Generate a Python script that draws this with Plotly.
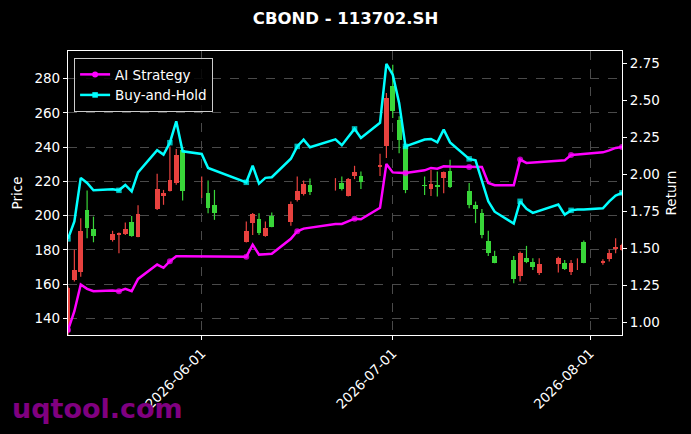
import plotly.graph_objects as go
import pandas as pd

dates = [
    "2026-05-11", "2026-05-12", "2026-05-13", "2026-05-14", "2026-05-15",
    "2026-05-18", "2026-05-19", "2026-05-20", "2026-05-21", "2026-05-22",
    "2026-05-25", "2026-05-26", "2026-05-27", "2026-05-28", "2026-05-29",
    "2026-06-01", "2026-06-02", "2026-06-03", "2026-06-08", "2026-06-09",
    "2026-06-10", "2026-06-11", "2026-06-12", "2026-06-15", "2026-06-16",
    "2026-06-17", "2026-06-18", "2026-06-22", "2026-06-23", "2026-06-24",
    "2026-06-25", "2026-06-26", "2026-06-29", "2026-06-30", "2026-07-01",
    "2026-07-02", "2026-07-03", "2026-07-06", "2026-07-07", "2026-07-08",
    "2026-07-09", "2026-07-10", "2026-07-13", "2026-07-14", "2026-07-15",
    "2026-07-16", "2026-07-17", "2026-07-20", "2026-07-21", "2026-07-22",
    "2026-07-23", "2026-07-24", "2026-07-27", "2026-07-28", "2026-07-29",
    "2026-07-30", "2026-07-31", "2026-08-03", "2026-08-04", "2026-08-05",
    "2026-08-06",
]

open_ = [
    132.0, 162.4, 167.2, 203.3, 192.2, 185.8, 188.7, 189.3, 196.3, 187.7,
    203.8, 211.5, 214.6, 219.0, 238.5, 216.0, 213.1, 206.3, 184.8, 195.9,
    197.9, 188.3, 199.8, 196.5, 209.2, 212.7, 218.0, 218.0, 219.0, 211.5,
    223.2, 223.2, 228.7, 240.4, 275.5, 255.6, 240.4, 217.8, 215.5, 217.5,
    221.9, 225.8, 214.1, 206.3, 201.8, 185.2, 176.4, 174.1, 164.7, 175.0,
    172.7, 166.7, 171.7, 172.2, 167.3, 171.5, 184.8, 172.2, 174.5, 180.4,
    180.0,
]
high = [
    158.5, 180.0, 198.5, 214.6, 199.4, 191.1, 190.1, 195.9, 199.8, 206.1,
    224.4, 215.0, 240.4, 238.9, 240.0, 222.8, 220.5, 215.0, 196.5, 201.5,
    201.4, 196.5, 201.8, 208.2, 222.8, 220.5, 221.7, 221.9, 222.8, 221.9,
    229.1, 225.8, 236.1, 271.6, 288.2, 258.0, 241.0, 222.8, 226.8, 225.8,
    225.8, 232.6, 219.0, 208.2, 203.8, 191.1, 179.5, 176.4, 179.0, 182.3,
    175.0, 175.0, 176.0, 174.1, 174.1, 175.0, 185.4, 174.5, 180.0, 186.8,
    183.5,
]
low = [
    129.0, 161.4, 164.3, 186.8, 184.4, 184.8, 178.0, 188.7, 187.7, 187.3,
    203.3, 206.3, 214.1, 218.0, 208.8, 210.3, 201.4, 197.5, 184.2, 188.7,
    188.7, 187.7, 193.2, 194.0, 208.2, 211.7, 212.1, 214.6, 214.6, 211.1,
    221.3, 215.5, 223.2, 233.6, 257.0, 236.5, 213.1, 212.1, 211.5, 211.1,
    213.1, 216.1, 204.3, 195.6, 186.8, 176.4, 172.2, 160.5, 161.4, 172.2,
    168.2, 165.3, 166.7, 168.2, 165.3, 168.2, 172.2, 171.2, 173.1, 178.0,
    179.5,
]
close = [
    157.5, 168.2, 190.7, 192.6, 188.3, 189.3, 189.7, 192.2, 188.3, 201.0,
    215.5, 213.1, 220.9, 235.5, 214.6, 216.0, 204.3, 201.8, 191.1, 201.0,
    189.7, 192.6, 193.6, 206.9, 214.1, 218.6, 213.5, 218.0, 215.5, 221.3,
    225.2, 219.9, 229.7, 268.7, 260.9, 244.3, 215.0, 217.3, 218.6, 217.0,
    225.2, 217.0, 206.3, 203.9, 188.7, 178.4, 172.5, 162.8, 178.0, 172.7,
    169.8, 171.7, 175.0, 168.8, 172.2, 171.5, 172.5, 173.7, 178.4, 181.9,
    182.9,
]

ai_strategy = [
    0.95, 1.077, 1.257, 1.228, 1.212, 1.217, 1.212, 1.228, 1.212, 1.295,
    1.392, 1.370, 1.414, 1.448, 1.448, 1.448, 1.448, 1.448, 1.444, 1.526,
    1.459, 1.462, 1.464, 1.565, 1.616, 1.634, 1.641, 1.665, 1.665, 1.683,
    1.701, 1.697, 1.774, 2.070, 2.013, 2.011, 2.009, 2.027, 2.043, 2.038,
    2.054, 2.052, 2.050, 2.050, 2.050, 1.942, 1.926, 1.926, 2.099, 2.077,
    2.081, 2.085, 2.092, 2.094, 2.130, 2.134, 2.137, 2.148, 2.161, 2.178,
    2.184,
]
buy_hold = [
    1.565, 1.683, 1.976, 1.942, 1.892, 1.899, 1.892, 1.928, 1.885, 2.013,
    2.163, 2.133, 2.213, 2.357, 2.155, 2.137, 2.043, 2.027, 1.946, 2.058,
    1.937, 1.976, 1.980, 2.105, 2.188, 2.234, 2.182, 2.236, 2.196, 2.252,
    2.306, 2.245, 2.347, 2.745, 2.671, 2.481, 2.188, 2.234, 2.238, 2.215,
    2.301, 2.215, 2.104, 2.094, 1.964, 1.818, 1.748, 1.668, 1.818, 1.767,
    1.740, 1.755, 1.796, 1.728, 1.757, 1.762, 1.762, 1.771, 1.818, 1.856,
    1.875,
]

price_ticks = [140, 160, 180, 200, 220, 240, 260, 280]
return_ticks = [1.00, 1.25, 1.50, 1.75, 2.00, 2.25, 2.50, 2.75]
month_ticks = ["2026-06-01", "2026-07-01", "2026-08-01"]

RED = "#e8423f"
GREEN = "#39d639"
MAGENTA = "#ff00ff"
CYAN = "#00ffff"
DAY_MS = 86400000

x = pd.to_datetime(dates)
up = [c >= o for o, c in zip(open_, close)]
colors = [RED if u else GREEN for u in up]

fig = go.Figure()

# wicks
for flag, col in ((True, RED), (False, GREEN)):
    wx, wy = [], []
    for d, h, l, u in zip(x, high, low, up):
        if u == flag:
            wx += [d, d, None]
            wy += [l, h, None]
    fig.add_trace(go.Scatter(x=wx, y=wy, mode="lines",
                             line=dict(color=col, width=1.2),
                             showlegend=False, hoverinfo="skip"))

# bodies
fig.add_trace(go.Bar(
    x=x,
    y=[abs(c - o) for o, c in zip(open_, close)],
    base=[min(o, c) for o, c in zip(open_, close)],
    width=0.75 * DAY_MS,
    marker=dict(color=colors, line=dict(width=0)),
    showlegend=False,
))

msize = [6 if i % 6 == 0 else 0 for i in range(len(dates))]
series = [("AI Strategy", ai_strategy, MAGENTA, "circle", 6),
          ("Buy-and-Hold", buy_hold, CYAN, "square", 5.5)]
for name, vals, col, sym, sz in series:
    fig.add_trace(go.Scatter(
        x=x, y=vals, mode="lines+markers", name=name, showlegend=False,
        line=dict(color=col, width=2.5),
        marker=dict(symbol=sym, size=[sz if s else 0 for s in msize], color=col,
                    line=dict(width=0)),
        yaxis="y2",
    ))
for name, vals, col, sym, sz in series:
    # legend entry
    fig.add_trace(go.Scatter(
        x=[None], y=[None], mode="lines+markers", name=name,
        line=dict(color=col, width=2.5),
        marker=dict(symbol=sym, size=sz, color=col, line=dict(width=0)),
        yaxis="y2",
    ))

font = dict(family="DejaVu Sans", size=13.5, color="white")
grid = dict(gridcolor="#4a4a4a", griddash="dash", gridwidth=0.8)

fig.update_layout(
    width=691, height=434,
    paper_bgcolor="black", plot_bgcolor="black",
    margin=dict(l=68, r=69, t=51, b=99),
    font=font,
    bargap=0,
    title=dict(text="CBOND - 113702.SH", x=0.5, xanchor="center",
               y=1 - 18 / 434, yref="container", yanchor="middle",
               font=dict(family="DejaVu Sans", size=16.5, color="white", weight="bold")),
    xaxis=dict(type="date", range=["2026-05-11", "2026-08-06"],
               tickvals=month_ticks, ticktext=month_ticks, tickangle=-45,
               showline=True, linecolor="white", linewidth=1.2, mirror=True,
               ticks="outside", ticklen=4, tickcolor="white",
               showgrid=True, zeroline=False, **grid),
    yaxis=dict(range=[130.2, 296.2], tickvals=price_ticks,
               title=dict(text="Price", standoff=8, font=font),
               showline=True, linecolor="white", linewidth=1.2, mirror=True,
               ticks="outside", ticklen=4, tickcolor="white",
               showgrid=True, zeroline=False, **grid),
    yaxis2=dict(range=[0.917, 2.831], tickvals=return_ticks, tickformat=".2f",
                overlaying="y", side="right",
                title=dict(text="Return", standoff=7, font=font),
                showline=True, linecolor="white", linewidth=1.2,
                ticks="outside", ticklen=4, tickcolor="white",
                showgrid=False, zeroline=False),
    legend=dict(x=0.011, y=0.975, xanchor="left", yanchor="top",
                bgcolor="rgba(0,0,0,0.85)", bordercolor="#cccccc", borderwidth=1,
                font=font, tracegroupgap=0),
    annotations=[dict(text="uqtool.com", xref="paper", yref="paper",
                      x=(10 - 68) / 553.7, y=(335 - 408) / 283.7,
                      xanchor="left", yanchor="middle", showarrow=False,
                      font=dict(family="DejaVu Sans", size=27, color="#800080",
                                weight="bold"))],
)

fig.write_html("out.html",
               config={"displayModeBar": False},
               post_script="document.body.style.margin='0';document.body.style.padding='0';")
